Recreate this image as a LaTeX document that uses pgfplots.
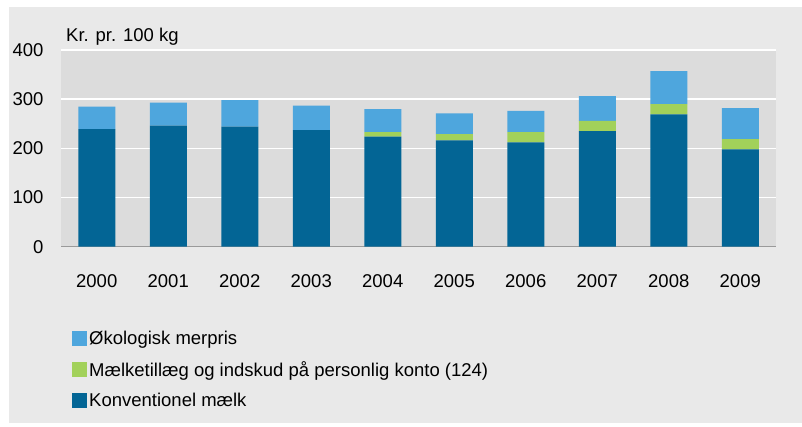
\documentclass[border=0pt]{standalone}
\usepackage{pgfplots}
\pgfplotsset{compat=1.18}
\usepackage{fontspec}
\setmainfont{Liberation Sans}
\definecolor{darkb}{HTML}{036595}
\definecolor{lightb}{HTML}{4EA6DD}
\definecolor{greenc}{HTML}{A2D15A}
\definecolor{plotbg}{HTML}{DCDCDC}
\definecolor{outerbg}{HTML}{E9E9E9}
\definecolor{basel}{HTML}{9A9A9A}
\begin{document}
\begin{tikzpicture}[x=1pt,y=1pt]
\useasboundingbox (0,0) rectangle (802,427);
\fill[white] (0,0) rectangle (802,427);
\fill[outerbg] (9,4) rectangle (802,420);
\begin{axis}[
  at={(61pt,180.3pt)}, anchor=south west,
  scale only axis, width=715pt, height=196.7pt,
  ybar stacked, bar width=37pt,
  xmin=-0.5, xmax=9.5, ymin=0, ymax=400,
  xtick={0,...,9},
  xticklabels={2000,2001,2002,2003,2004,2005,2006,2007,2008,2009},
  ytick={0,100,200,300,400},
  axis line style={draw=none},
  axis background/.style={fill=plotbg},
  ymajorgrids, grid style={white, line width=1.6pt},
  major tick length=0pt,
  tick label style={font=\fontsize{18.5}{22}\selectfont},
  /pgf/number format/assume math mode=true,
  yticklabel style={xshift=-14pt},
  xticklabel style={yshift=-24pt},
  legend style={at={(0.0154,-0.42)}, anchor=north west, draw=none, fill=none,
    inner sep=0pt, row sep=11pt, font=\fontsize{18.5}{22}\selectfont,
    legend cell align=left},
  reverse legend,
  legend image code/.code={\fill[#1] (0pt,-7.5pt) rectangle (15pt,7.5pt);},
  clip=false,
]
\addplot[fill=darkb, draw=none] coordinates {(0,239) (1,246) (2,244) (3,237) (4,224) (5,216) (6,212) (7,235) (8,269) (9,198)};
\addlegendentry{Konventionel mælk}
\addplot[fill=greenc, draw=none] coordinates {(0,0) (1,0) (2,0) (3,0) (4,9) (5,13) (6,21) (7,21) (8,21) (9,21)};
\addlegendentry{Mælketillæg og indskud på personlig konto (124)}
\addplot[fill=lightb, draw=none] coordinates {(0,46) (1,47) (2,54) (3,50) (4,47) (5,42) (6,43) (7,50) (8,67) (9,63)};
\addlegendentry{Økologisk merpris}
\draw[basel, line width=1.5pt] (rel axis cs:0,0) -- (rel axis cs:1,0);
\end{axis}
\node[anchor=west, font=\fontsize{18.5}{22}\selectfont, inner sep=0pt] at (66,390) {Kr. pr. 100 kg};
\end{tikzpicture}
\end{document}
